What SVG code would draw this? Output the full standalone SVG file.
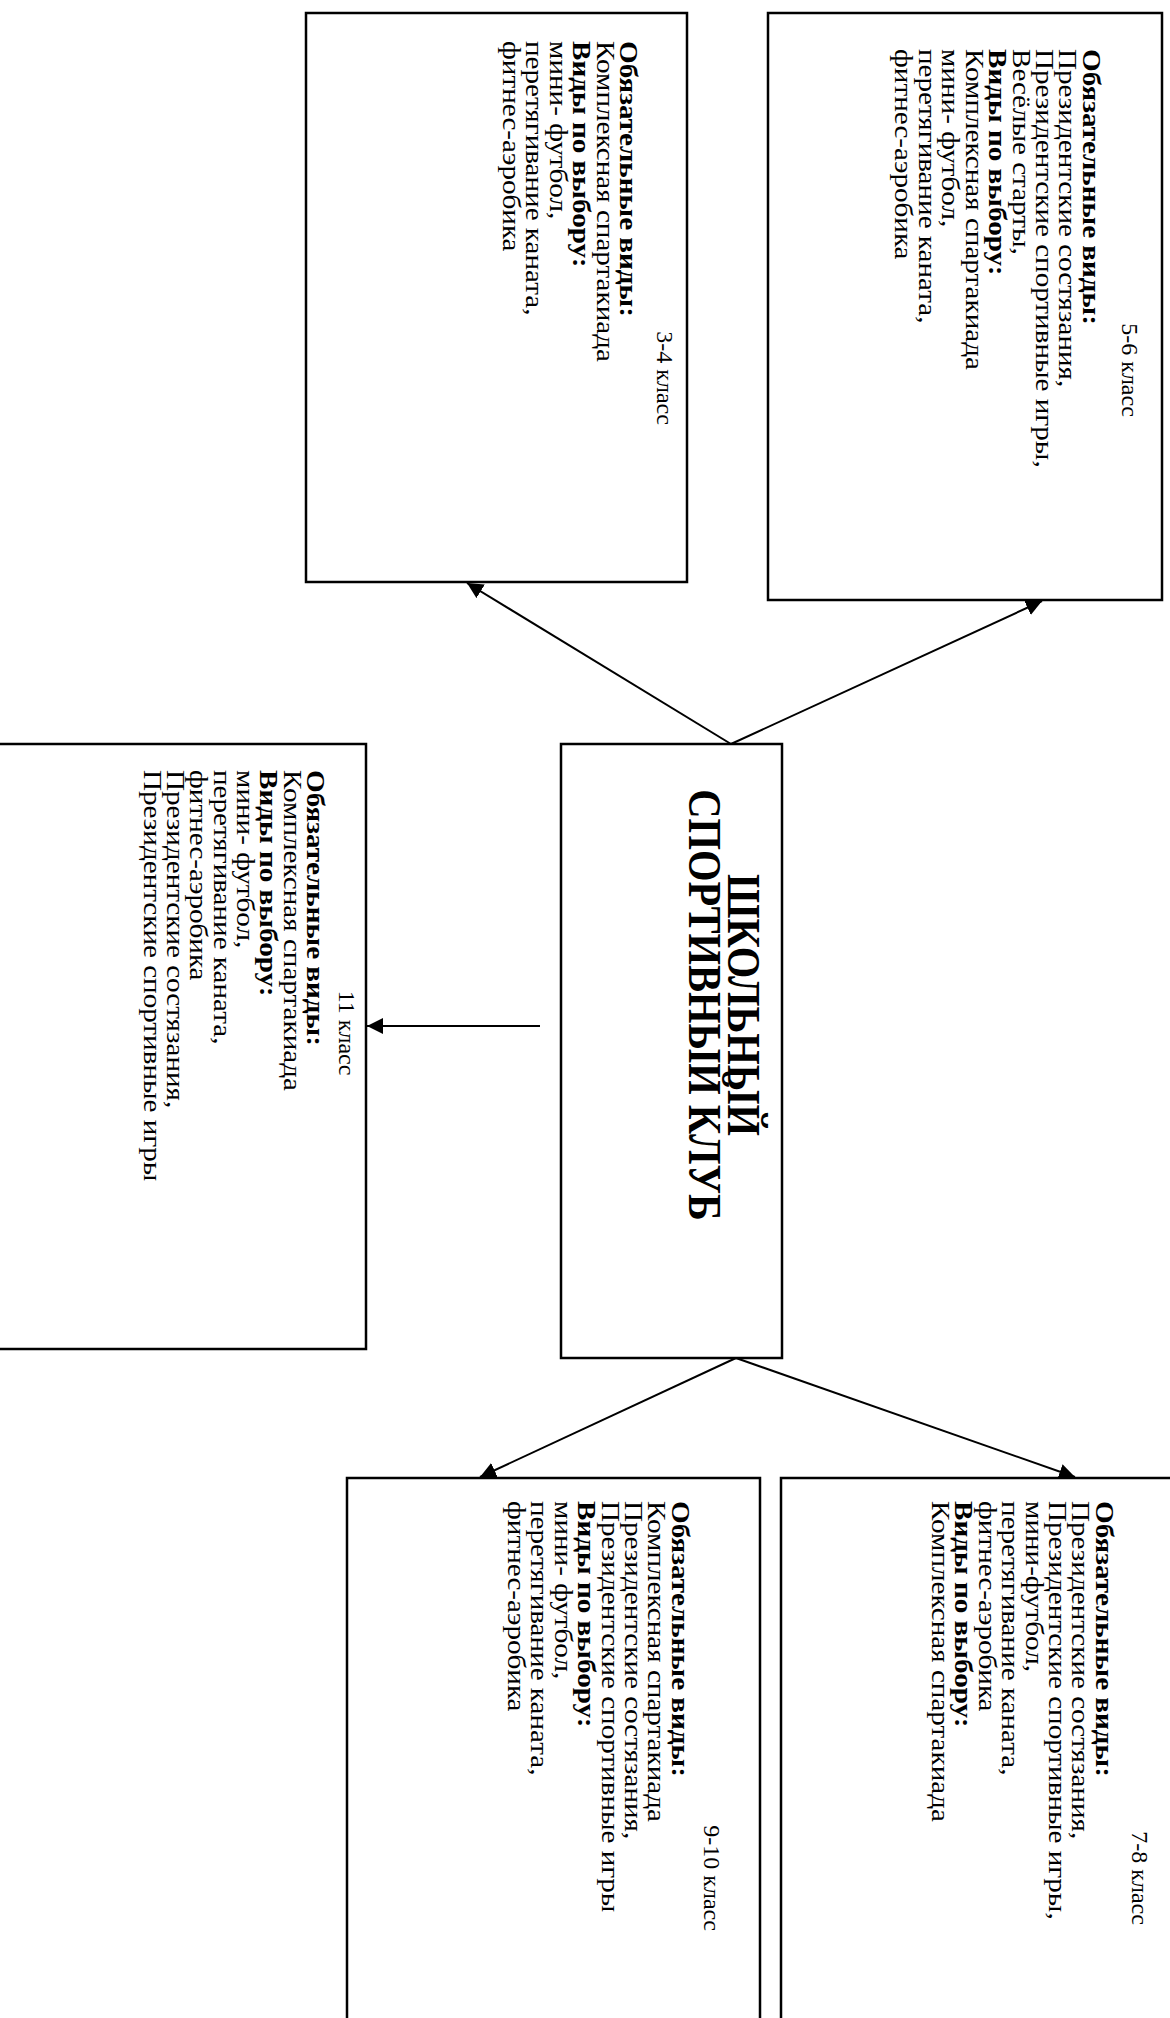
<svg xmlns="http://www.w3.org/2000/svg" width="1170" height="2018" viewBox="0 0 1170 2018">
<style>
.box{fill:#fff;stroke:#000;stroke-width:2.5}
.t{font-family:"Liberation Serif","Times New Roman",serif;font-size:26px;fill:#000}
.hd{font-family:"Liberation Serif","Times New Roman",serif;font-size:24px;fill:#000;text-anchor:middle}
.b{font-weight:bold}
.title{font-family:"Liberation Serif","Times New Roman",serif;font-size:46px;font-weight:bold;text-anchor:middle;fill:#000}
.c{stroke:#000;stroke-width:2;fill:none;marker-end:url(#ah)}
</style>
<defs>
<marker id="ah" viewBox="0 0 10 10" refX="10" refY="5" markerWidth="8" markerHeight="8" markerUnits="strokeWidth" orient="auto">
<path d="M0,0 L10,5 L0,10 z" fill="#000"/>
</marker>
</defs>
<rect width="1170" height="2018" fill="#fff"/>
<g id="connectors">
<line class="c" x1="731" y1="744" x2="467" y2="583"/>
<line class="c" x1="731" y1="744" x2="1042" y2="601"/>
<line class="c" x1="540" y1="1026" x2="367" y2="1026"/>
<line class="c" x1="736" y1="1358" x2="480" y2="1477"/>
<line class="c" x1="736" y1="1358" x2="1075" y2="1477"/>
</g>
<g id="node-3-4">
<rect class="box" x="306" y="13" width="381" height="569"/>
<g transform="translate(620,41) rotate(90) scale(1.12,1)">
<text class="hd" transform="scale(0.893,1)" x="337" y="-37">3-4 класс</text>
<text class="t b" x="0" y="0">Обязательные виды:</text>
<text class="t" x="0" y="23.4">Комплексная спартакиада</text>
<text class="t b" x="0" y="46.8">Виды по выбору:</text>
<text class="t" x="0" y="70.2">мини- футбол,</text>
<text class="t" x="0" y="93.6">перетягивание каната,</text>
<text class="t" x="0" y="117">фитнес-аэробика</text>
</g>
</g>
<g id="node-5-6">
<rect class="box" x="768" y="13" width="394" height="587"/>
<g transform="translate(1083,49) rotate(90) scale(1.12,1)">
<text class="hd" transform="scale(0.893,1)" x="321" y="-39">5-6 класс</text>
<text class="t b" x="0" y="0">Обязательные виды:</text>
<text class="t" x="0" y="23.5">Президентские состязания,</text>
<text class="t" x="0" y="47">Президентские спортивные игры,</text>
<text class="t" x="0" y="70.5">Весёлые старты,</text>
<text class="t b" x="0" y="94">Виды по выбору:</text>
<text class="t" x="0" y="117.5">Комплексная спартакиада</text>
<text class="t" x="0" y="141">мини- футбол,</text>
<text class="t" x="0" y="164.5">перетягивание каната,</text>
<text class="t" x="0" y="188">фитнес-аэробика</text>
</g>
</g>
<g id="node-club">
<rect class="box" x="561" y="744" width="221" height="614"/>
<g transform="translate(728,1005) rotate(90) scale(0.88,1)">
<text class="title" x="0" y="0">ШКОЛЬНЫЙ</text>
<text class="title" x="0" y="39">СПОРТИВНЫЙ КЛУБ</text>
</g>
</g>
<g id="node-11">
<rect class="box" x="-5" y="744" width="371" height="605"/>
<g transform="translate(307,770) rotate(90) scale(1.12,1)">
<text class="hd" transform="scale(0.893,1)" x="263" y="-32">11 класс</text>
<text class="t b" x="0" y="0">Обязательные виды:</text>
<text class="t" x="0" y="23.35">Комплексная спартакиада</text>
<text class="t b" x="0" y="46.7">Виды по выбору:</text>
<text class="t" x="0" y="70.05">мини- футбол,</text>
<text class="t" x="0" y="93.4">перетягивание каната,</text>
<text class="t" x="0" y="116.75">фитнес-аэробика</text>
<text class="t" x="0" y="140.1">Президентские состязания,</text>
<text class="t" x="0" y="163.45">Президентские спортивные игры</text>
</g>
</g>
<g id="node-9-10">
<rect class="box" x="347" y="1478" width="413" height="560"/>
<g transform="translate(672,1501) rotate(90) scale(1.12,1)">
<text class="hd" transform="scale(0.893,1)" x="377" y="-32">9-10 класс</text>
<text class="t b" x="0" y="0">Обязательные виды:</text>
<text class="t" x="0" y="23.5">Комплексная спартакиада</text>
<text class="t" x="0" y="47">Президентские состязания,</text>
<text class="t" x="0" y="70.5">Президентские спортивные игры</text>
<text class="t b" x="0" y="94">Виды по выбору:</text>
<text class="t" x="0" y="117.5">мини- футбол,</text>
<text class="t" x="0" y="141">перетягивание каната,</text>
<text class="t" x="0" y="164.5">фитнес-аэробика</text>
</g>
</g>
<g id="node-7-8">
<rect class="box" x="781" y="1478" width="400" height="560"/>
<g transform="translate(1096,1501) rotate(90) scale(1.12,1)">
<text class="hd" transform="scale(0.893,1)" x="377" y="-36">7-8 класс</text>
<text class="t b" x="0" y="0">Обязательные виды:</text>
<text class="t" x="0" y="23.5">Президентские состязания,</text>
<text class="t" x="0" y="47">Президентские спортивные игры,</text>
<text class="t" x="0" y="70.5">мини-футбол,</text>
<text class="t" x="0" y="94">перетягивание каната,</text>
<text class="t" x="0" y="117.5">фитнес-аэробика</text>
<text class="t b" x="0" y="141">Виды по выбору:</text>
<text class="t" x="0" y="164.5">Комплексная спартакиада</text>
</g>
</g>
</svg>
